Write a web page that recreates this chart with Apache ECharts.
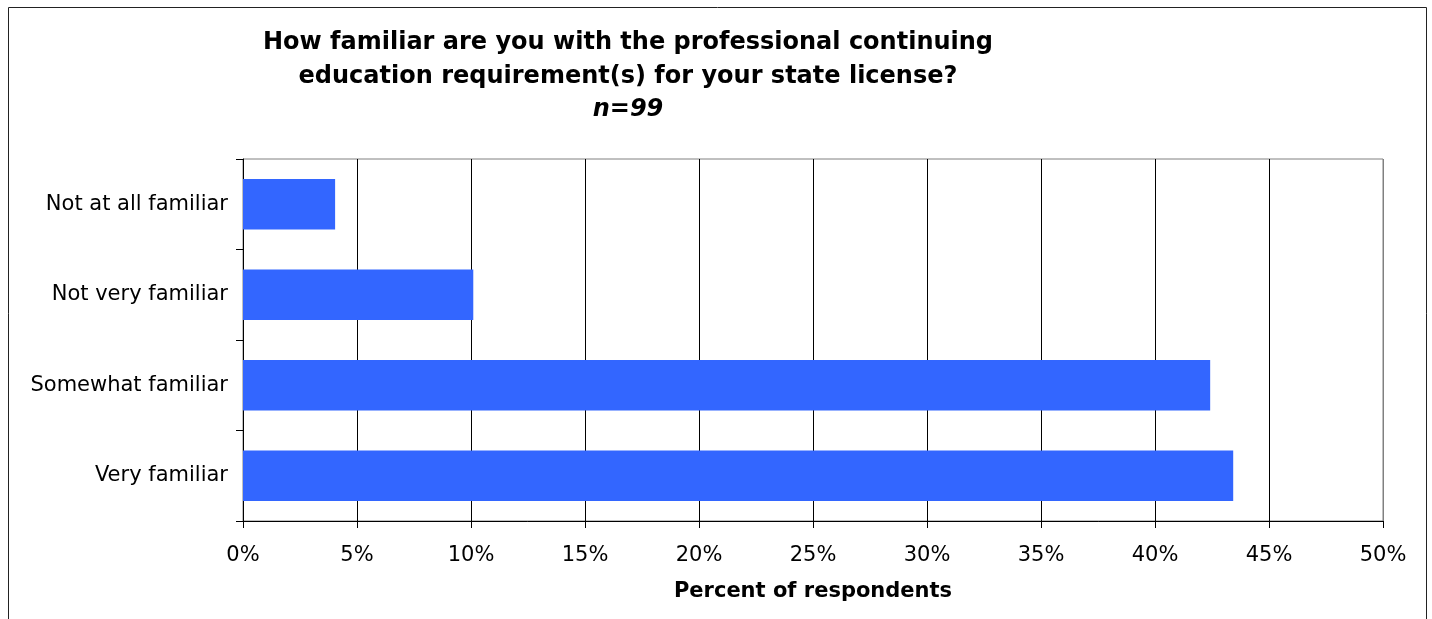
<!DOCTYPE html>
<html>
<head>
<meta charset="utf-8">
<script src="https://cdn.jsdelivr.net/npm/echarts@6/dist/echarts.min.js"></script>
<style>html,body{margin:0;padding:0;background:#fff}#c{width:1432px;height:619px}</style>
</head>
<body>
<div id="c"></div>
<script>
const categories = ['Not at all familiar', 'Not very familiar', 'Somewhat familiar', 'Very familiar'];
const percentValues = [4.04, 10.10, 42.42, 43.43];
const titleLines = ['How familiar are you with the professional continuing', 'education requirement(s) for your state license?'];
const subTitle = 'n=99';
const xAxisName = 'Percent of respondents';

const font = '"DejaVu Sans", Verdana, sans-serif';
const gridColors = ['#000','#000','#000','#000','#000','#000','#000','#000','#000','#000','#808080'];

const chart = echarts.init(document.getElementById('c'), null, {renderer: 'canvas'});
chart.setOption({
  animation: false,
  backgroundColor: '#fff',
  textStyle: {fontFamily: font},
  grid: {left: 243, top: 159, right: 49, bottom: 98, show: true, borderColor: '#808080', borderWidth: 1, containLabel: false},
  xAxis: {
    type: 'value', min: 0, max: 50, interval: 5,
    axisLine: {show: true, lineStyle: {color: '#000', width: 1}},
    axisTick: {show: true, length: 7, lineStyle: {color: '#000'}},
    splitLine: {show: true, lineStyle: {color: gridColors, width: 1}},
    axisLabel: {formatter: '{value}%', color: '#000', fontSize: 21, margin: 24, fontFamily: font},
    name: xAxisName, nameLocation: 'middle', nameGap: 60,
    nameTextStyle: {fontWeight: 'bold', fontSize: 21, color: '#000', fontFamily: font}
  },
  yAxis: {
    type: 'category', data: categories, inverse: true,
    axisLine: {show: true, lineStyle: {color: '#000', width: 1}},
    axisTick: {show: true, length: 7, lineStyle: {color: '#000'}},
    axisLabel: {color: '#000', fontSize: 21, margin: 15, fontFamily: font},
    splitLine: {show: false}
  },
  series: [{
    type: 'bar', data: percentValues, barCategoryGap: '44%',
    itemStyle: {color: '#3366FF'}
  }],
  graphic: [
    {type: 'rect', shape: {x: 8.5, y: 7.5, width: 1418, height: 700}, style: {fill: 'none', stroke: '#222', lineWidth: 1}, z: 100},
    {type: 'text', x: 628, y: 43, style: {text: titleLines[0], font: 'bold 24px ' + font, fill: '#000', textAlign: 'center', textVerticalAlign: 'middle'}},
    {type: 'text', x: 628, y: 77, style: {text: titleLines[1], font: 'bold 24px ' + font, fill: '#000', textAlign: 'center', textVerticalAlign: 'middle'}},
    {type: 'text', x: 628, y: 110, style: {text: subTitle, font: 'italic bold 24px ' + font, fill: '#000', textAlign: 'center', textVerticalAlign: 'middle'}}
  ]
});
</script>
</body>
</html>
